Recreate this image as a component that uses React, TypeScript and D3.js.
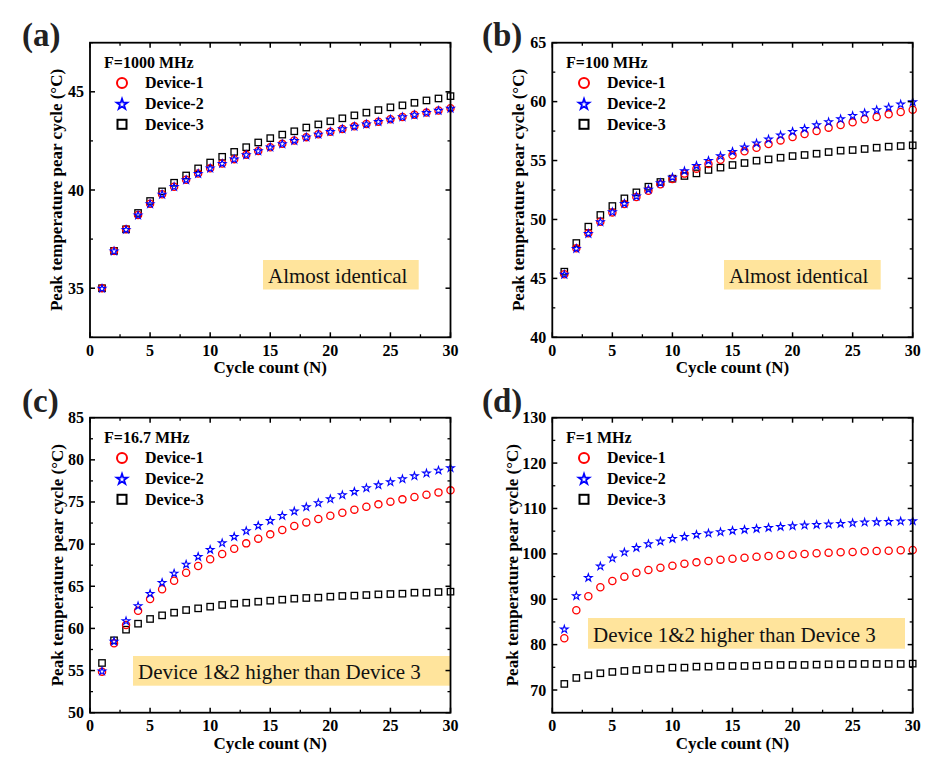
import React from "react";
import * as d3 from "d3";

const cycles = [1,2,3,4,5,6,7,8,9,10,11,12,13,14,15,16,17,18,19,20,21,22,23,24,25,26,27,28,29,30];

// Panel (a) F=1000 MHz
const a_dev1 = [35.0,36.9,38.0,38.73,39.3,39.78,40.17,40.52,40.84,41.11,41.35,41.57,41.79,41.99,42.18,42.35,42.52,42.69,42.84,42.97,43.11,43.24,43.36,43.48,43.6,43.72,43.83,43.94,44.05,44.16];
const a_dev2 = [35.0,36.9,38.0,38.73,39.31,39.79,40.18,40.53,40.85,41.12,41.36,41.58,41.8,42.0,42.19,42.36,42.53,42.7,42.85,42.98,43.12,43.25,43.37,43.49,43.61,43.73,43.84,43.95,44.06,44.17];
const a_dev3 = [35.0,36.9,38.0,38.83,39.44,39.93,40.37,40.74,41.1,41.4,41.69,41.94,42.18,42.42,42.64,42.82,42.99,43.18,43.34,43.5,43.65,43.8,43.94,44.07,44.21,44.31,44.44,44.56,44.66,44.78];

// Panel (b) F=100 MHz
const b_dev1 = [45.35,47.55,48.82,49.81,50.6,51.31,51.91,52.44,52.98,53.43,53.89,54.31,54.71,55.07,55.44,55.78,56.09,56.4,56.71,57.0,57.25,57.5,57.79,58.01,58.24,58.5,58.69,58.92,59.12,59.32];
const b_dev2 = [45.35,47.55,48.82,49.81,50.66,51.37,51.99,52.58,53.12,53.6,54.14,54.59,55.02,55.41,55.78,56.15,56.49,56.83,57.17,57.48,57.73,58.04,58.3,58.55,58.83,59.06,59.32,59.54,59.8,59.99];
const b_dev3 = [45.57,48.0,49.39,50.38,51.14,51.79,52.3,52.78,53.18,53.46,53.69,53.91,54.2,54.4,54.62,54.79,54.99,55.1,55.24,55.38,55.47,55.58,55.72,55.84,55.89,55.98,56.09,56.18,56.23,56.29];

// Panel (c) F=16.7 MHz
const c_dev1 = [54.87,58.23,60.4,62.1,63.49,64.64,65.66,66.61,67.4,68.2,68.83,69.46,70.09,70.65,71.16,71.67,72.15,72.58,72.98,73.37,73.73,74.09,74.44,74.72,75.04,75.31,75.59,75.87,76.14,76.38];
const c_dev2 = [54.95,58.5,60.92,62.7,64.16,65.47,66.57,67.64,68.55,69.38,70.17,70.92,71.6,72.23,72.82,73.41,73.93,74.44,74.92,75.39,75.87,76.26,76.7,77.05,77.41,77.76,78.12,78.44,78.79,79.07];
const c_dev3 = [55.9,58.59,59.85,60.56,61.12,61.55,61.87,62.18,62.38,62.58,62.78,62.94,63.05,63.17,63.29,63.41,63.53,63.61,63.65,63.77,63.85,63.89,63.96,64.04,64.08,64.12,64.24,64.24,64.32,64.36];

// Panel (d) F=1 MHz
const d_dev1 = [81.4,87.56,90.65,92.63,94.02,94.98,95.86,96.45,96.96,97.4,97.84,98.13,98.43,98.72,98.94,99.16,99.38,99.53,99.75,99.82,99.97,100.12,100.26,100.34,100.41,100.56,100.63,100.7,100.78,100.85];
const d_dev2 = [83.45,90.79,94.83,97.33,99.09,100.41,101.44,102.25,102.83,103.42,103.86,104.3,104.6,104.89,105.18,105.4,105.62,105.84,106.06,106.21,106.36,106.51,106.58,106.73,106.87,107.02,107.09,107.17,107.24,107.31];
const d_dev3 = [71.34,72.66,73.25,73.69,73.98,74.2,74.42,74.64,74.71,74.93,74.93,75.15,75.15,75.3,75.3,75.3,75.37,75.52,75.52,75.52,75.52,75.59,75.67,75.67,75.74,75.74,75.74,75.74,75.74,75.81];

const xTicks = [0,5,10,15,20,25,30];
const xMinor = [2.5,7.5,12.5,17.5,22.5,27.5];
const a_yTicks = [35,40,45];
const a_yMinor = [32.5,37.5,42.5,47.5];
const b_yTicks = [40,45,50,55,60,65];
const b_yMinor = [42.5,47.5,52.5,57.5,62.5];
const c_yTicks = [50,55,60,65,70,75,80,85];
const c_yMinor = [52.5,57.5,62.5,67.5,72.5,77.5,82.5];
const d_yTicks = [70,80,90,100,110,120,130];
const d_yMinor = [65,75,85,95,105,115,125];

const seriesNames = ["Device-1","Device-2","Device-3"];
const panelLabels = ["(a)","(b)","(c)","(d)"];
const freqLabels = ["F=1000 MHz","F=100 MHz","F=16.7 MHz","F=1 MHz"];
const noteLabels = ["Almost identical","Almost identical","Device 1&2 higher than Device 3","Device 1&2 higher than Device 3"];
const yTitle = "Peak temperature pear  cycle (\u00B0C)";
const xTitle = "Cycle count (N)";

const FONT = "Liberation Serif";
const RED = "#FF0000";
const BLUE = "#0000FF";
const BOX = "#FFE49C";

type Panel = {
  left: number; right: number; top: number; bottom: number;
  yDomain: [number, number]; yTicks: number[]; yMinor: number[];
  data: number[][]; ylabX: number; labX: number; labY: number;
  note: { x0: number; x1: number; y0: number; y1: number };
  legX: number;
};

const panels: Panel[] = [
  { left: 90, right: 450.5, top: 42.7, bottom: 337.3, yDomain: [32.5, 47.5], yTicks: a_yTicks, yMinor: a_yMinor,
    data: [a_dev1, a_dev2, a_dev3], ylabX: 56.5, labX: 22, labY: 45.5, note: { x0: 263, x1: 418.7, y0: 260, y1: 289.5 }, legX: 104 },
  { left: 552.3, right: 912.7, top: 42.7, bottom: 337.3, yDomain: [40, 65], yTicks: b_yTicks, yMinor: b_yMinor,
    data: [b_dev1, b_dev2, b_dev3], ylabX: 518.5, labX: 482, labY: 45.5, note: { x0: 724, x1: 880.7, y0: 260, y1: 289.5 }, legX: 566 },
  { left: 90, right: 450.5, top: 417.7, bottom: 712.7, yDomain: [50, 85], yTicks: c_yTicks, yMinor: c_yMinor,
    data: [c_dev1, c_dev2, c_dev3], ylabX: 57, labX: 22, labY: 411.5, note: { x0: 133, x1: 450, y0: 656, y1: 685.7 }, legX: 104 },
  { left: 552.3, right: 912.7, top: 417.7, bottom: 712.7, yDomain: [65, 130], yTicks: d_yTicks, yMinor: d_yMinor,
    data: [d_dev1, d_dev2, d_dev3], ylabX: 512, labX: 482, labY: 411.5, note: { x0: 588, x1: 905, y0: 618, y1: 648.7 }, legX: 566 },
];

const starPath = (size: number) => d3.symbol().type(d3.symbolStar).size(size)() as string;

function Marker({ kind, x, y, big }: { kind: number; x: number; y: number; big?: boolean }) {
  if (kind === 0) {
    const r = big ? 5 : 3.6;
    return <circle cx={x} cy={y} r={r} fill="none" stroke={RED} strokeWidth={big ? 2 : 1.3} />;
  }
  if (kind === 1) {
    const s = big ? 36 : 18;
    return <path d={starPath(s)} transform={`translate(${x},${y + (big ? 0.7 : 0.4)})`} fill="none" stroke={BLUE} strokeWidth={big ? 1.7 : 1.1} strokeLinejoin="miter" />;
  }
  const h = big ? 4.5 : 3.2;
  return <rect x={x - h} y={y - h} width={2 * h} height={2 * h} fill="none" stroke="#000" strokeWidth={big ? 2 : 1.3} />;
}

function PanelView({ p, i }: { p: Panel; i: number }) {
  const x = d3.scaleLinear().domain([0, 30]).range([p.left, p.right]);
  const y = d3.scaleLinear().domain(p.yDomain).range([p.bottom, p.top]);
  const major = 5, minor = 3;
  const drawOrder = [2, 0, 1];
  const legY0 = p.top + 19.5;
  return (
    <g style={{ fontFamily: FONT }}>
      <text x={p.labX} y={p.labY} fontWeight="bold" fontSize={33} fill="#222">{panelLabels[i]}</text>
      {/* annotation box */}
      <rect x={p.note.x0} y={p.note.y0} width={p.note.x1 - p.note.x0} height={p.note.y1 - p.note.y0} fill={BOX} />
      <text x={p.note.x0 + 5} y={p.note.y1 - 7} fontSize={21} fill="#111">{noteLabels[i]}</text>
      {/* data */}
      {drawOrder.map((k) => (
        <g key={k}>
          {p.data[k].map((v, j) => (
            <Marker key={j} kind={k} x={x(cycles[j])} y={y(v)} />
          ))}
        </g>
      ))}
      {/* frame */}
      <rect x={p.left} y={p.top} width={p.right - p.left} height={p.bottom - p.top} fill="none" stroke="#000" strokeWidth={1.8} />
      {/* x ticks */}
      {xTicks.map((t) => (
        <g key={"xt" + t}>
          <line x1={x(t)} x2={x(t)} y1={p.bottom} y2={p.bottom - major} stroke="#000" strokeWidth={1.5} />
          <line x1={x(t)} x2={x(t)} y1={p.top} y2={p.top + major} stroke="#000" strokeWidth={1.5} />
          <text x={x(t)} y={p.bottom + 18.5} textAnchor="middle" fontWeight="bold" fontSize={16}>{t}</text>
        </g>
      ))}
      {xMinor.map((t) => (
        <g key={"xm" + t}>
          <line x1={x(t)} x2={x(t)} y1={p.bottom} y2={p.bottom - minor} stroke="#000" strokeWidth={1.3} />
          <line x1={x(t)} x2={x(t)} y1={p.top} y2={p.top + minor} stroke="#000" strokeWidth={1.3} />
        </g>
      ))}
      {/* y ticks */}
      {p.yTicks.map((t) => (
        <g key={"yt" + t}>
          <line x1={p.left} x2={p.left + major} y1={y(t)} y2={y(t)} stroke="#000" strokeWidth={1.5} />
          <line x1={p.right} x2={p.right - major} y1={y(t)} y2={y(t)} stroke="#000" strokeWidth={1.5} />
          <text x={p.left - 6} y={y(t) + 5.5} textAnchor="end" fontWeight="bold" fontSize={16}>{t}</text>
        </g>
      ))}
      {p.yMinor.map((t) => (
        <g key={"ym" + t}>
          <line x1={p.left} x2={p.left + minor} y1={y(t)} y2={y(t)} stroke="#000" strokeWidth={1.3} />
          <line x1={p.right} x2={p.right - minor} y1={y(t)} y2={y(t)} stroke="#000" strokeWidth={1.3} />
        </g>
      ))}
      {/* axis titles */}
      <text x={(p.left + p.right) / 2} y={p.bottom + 36} textAnchor="middle" fontWeight="bold" fontSize={17}>{xTitle}</text>
      <text transform={`translate(${p.ylabX},${(p.top + p.bottom) / 2}) rotate(-90)`} textAnchor="middle" dominantBaseline="central" fontWeight="bold" fontSize={17}>{yTitle}</text>
      {/* legend */}
      <text x={p.legX} y={legY0 + 5.5} fontWeight="bold" fontSize={16}>{freqLabels[i]}</text>
      {seriesNames.map((nm, k) => {
        const yy = legY0 + 20.7 * (k + 1);
        return (
          <g key={nm}>
            <Marker kind={k} x={p.legX + 18} y={yy} big />
            <text x={p.legX + 41} y={yy + 5.5} fontWeight="bold" fontSize={16}>{nm}</text>
          </g>
        );
      })}
    </g>
  );
}

export default function App() {
  return (
    <svg width={927} height={764} style={{ position: "absolute", left: 0, top: 0, background: "#fff" }}>
      <rect x={0} y={0} width={927} height={764} fill="#fff" />
      {panels.map((p, i) => (
        <PanelView key={i} p={p} i={i} />
      ))}
    </svg>
  );
}
